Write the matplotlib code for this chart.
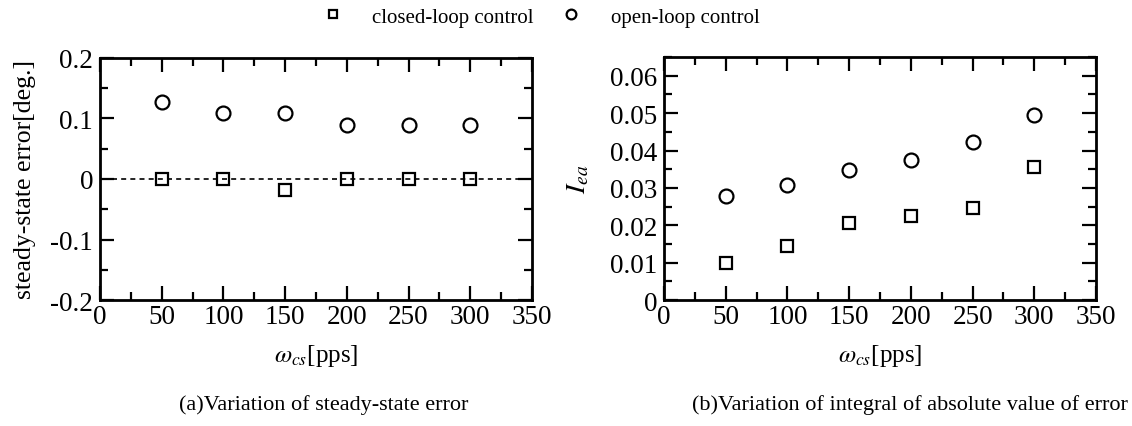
import matplotlib
matplotlib.use('Agg')
import matplotlib.pyplot as plt
from matplotlib.ticker import MultipleLocator
from matplotlib.lines import Line2D

plt.rcParams['font.family'] = ['Liberation Serif', 'DejaVu Serif']
plt.rcParams['mathtext.fontset'] = 'stix'
plt.rcParams['axes.unicode_minus'] = False

speed = [50, 100, 150, 200, 250, 300]

# (a) steady-state error [deg.]
err_closed = [0.0, 0.0, -0.0175, 0.0, 0.0, 0.0]
err_open = [0.127, 0.109, 0.109, 0.090, 0.090, 0.090]

# (b) integral of absolute error
iea_closed = [0.0098, 0.0144, 0.0205, 0.0225, 0.0245, 0.0356]
iea_open = [0.0279, 0.0308, 0.0348, 0.0375, 0.0424, 0.0495]

xticks = [0, 50, 100, 150, 200, 250, 300, 350]
yticks_a = [-0.2, -0.1, 0, 0.1, 0.2]
ylabels_a = ['-0.2', '-0.1', '0', '0.1', '0.2']
yticks_b = [0, 0.01, 0.02, 0.03, 0.04, 0.05, 0.06]
ylabels_b = ['0', '0.01', '0.02', '0.03', '0.04', '0.05', '0.06']


def style(ax):
    for s in ax.spines.values():
        s.set_linewidth(2)
    ax.tick_params(which='both', direction='in', top=True, right=True, labelsize=19.5, width=1.6, pad=3)
    ax.tick_params(axis='y', pad=5)
    ax.tick_params(which='major', length=10)
    ax.tick_params(which='minor', length=5.5)
    ax.set_xlim(0, 350)
    ax.set_xticks(xticks)
    ax.set_xticklabels([str(t) for t in xticks])
    ax.xaxis.set_minor_locator(MultipleLocator(25))
    ax.set_xlabel(r'$\omega_{cs}$[pps]', fontsize=18, labelpad=9)


fig = plt.figure(figsize=(11.32, 4.27), dpi=100)
ax1 = fig.add_axes([0.0883, 0.295, 0.3816, 0.567])
ax2 = fig.add_axes([0.5866, 0.295, 0.3816, 0.569])

mk = dict(linestyle='none', markerfacecolor='none', markeredgecolor='black', markeredgewidth=1.6)

ax1.plot([10, 350], [0, 0], linestyle=(0, (3, 2.5)), color='black', linewidth=1.2)
ax1.plot(speed, err_closed, marker='s', markersize=8, **mk)
ax1.plot(speed, err_open, marker='o', markersize=10, **mk)
style(ax1)
ax1.set_ylim(-0.2, 0.2)
ax1.set_yticks(yticks_a)
ax1.set_yticklabels(ylabels_a)
ax1.yaxis.set_minor_locator(MultipleLocator(0.05))
ax1.set_ylabel('steady-state error[deg.]', fontsize=18.5, labelpad=10)

ax2.plot(speed, iea_closed, marker='s', markersize=8, **mk)
ax2.plot(speed, iea_open, marker='o', markersize=10, **mk)
style(ax2)
ax2.set_ylim(0, 0.065)
ax2.set_yticks(yticks_b)
ax2.set_yticklabels(ylabels_b)
ax2.yaxis.set_minor_locator(MultipleLocator(0.005))
ax2.set_ylabel(r'$I_{ea}$', fontsize=20, labelpad=13)

fig.text(0.286, 0.04, '(a)Variation of steady-state error', ha='center', fontsize=16)
fig.text(0.804, 0.04, '(b)Variation of integral of absolute value of error', ha='center', fontsize=16)

handles = [Line2D([], [], marker='s', markersize=6, **mk),
           Line2D([], [], marker='o', markersize=7, **mk)]
fig.legend(handles, ['closed-loop control', 'open-loop control'], loc='upper center',
           bbox_to_anchor=(0.478, 1.025), ncol=2, frameon=False, fontsize=15,
           handlelength=1.0, handletextpad=1.4, columnspacing=1.3)

plt.savefig('out.png', dpi=100)
